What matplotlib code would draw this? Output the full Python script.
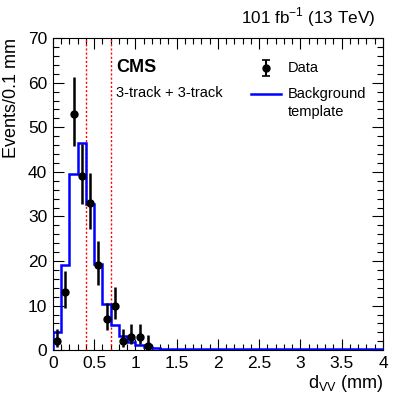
import matplotlib
matplotlib.use("Agg")
import matplotlib.pyplot as plt
from matplotlib.ticker import MultipleLocator, FuncFormatter

plt.rcParams["font.family"] = ["Liberation Sans", "DejaVu Sans"]
plt.rcParams["mathtext.fontset"] = "custom"
plt.rcParams["mathtext.rm"] = "Liberation Sans"

# data points (0.1 mm bins)
data_x = [0.05, 0.15, 0.25, 0.35, 0.45, 0.55, 0.65, 0.75, 0.85, 0.95, 1.05, 1.15]
data_y = [2, 13, 53, 39, 33, 19, 7, 10, 2, 3, 3, 1]
err_lo = [1.29, 3.55, 7.26, 6.2, 5.73, 4.33, 2.58, 3.11, 1.29, 1.63, 1.63, 0.83]
err_hi = [2.64, 4.67, 8.3, 7.3, 6.8, 5.4, 3.58, 4.26, 2.64, 2.92, 2.92, 2.30]

# background template
bkg_edges = [0.0, 0.1, 0.2, 0.3, 0.4, 0.5, 0.6, 0.7, 0.8, 0.9, 1.0, 1.1, 1.2, 1.3, 1.5, 2.0, 4.0]
bkg_vals = [4.1, 19.0, 39.6, 46.4, 32.9, 19.3, 10.3, 5.7, 3.1, 1.9, 1.2, 0.7, 0.45, 0.3, 0.25, 0.2]

cut_lines = [0.4, 0.7]

fig = plt.figure(figsize=(4.07, 3.93), dpi=100)
ax = fig.add_axes([0.130, 0.109, 0.811, 0.794])

ax.stairs(bkg_vals, bkg_edges, color="#0000ff", lw=1.8, zorder=3)
for c in cut_lines:
    ax.axvline(c, color="#ff0000", ls=(0, (1.5, 1.5)), lw=1.0)
ax.errorbar(data_x, data_y, yerr=[err_lo, err_hi], fmt="o", color="black", ms=5,
            lw=1.8, capsize=0, zorder=4)

ax.set_xlim(0, 4)
ax.set_ylim(0, 70)
ax.xaxis.set_major_locator(MultipleLocator(0.5))
ax.xaxis.set_minor_locator(MultipleLocator(0.1))
ax.yaxis.set_major_locator(MultipleLocator(10))
ax.yaxis.set_minor_locator(MultipleLocator(2))
ax.xaxis.set_major_formatter(FuncFormatter(lambda v, p: f"{v:g}"))
ax.tick_params(which="both", direction="in", top=True, right=True, labelsize=12.5, width=0.8)
ax.tick_params(which="major", length=8, pad=4)
ax.tick_params(which="minor", length=4)
for s in ax.spines.values():
    s.set_linewidth(0.8)

ax.set_xlabel(r"d$_{\mathregular{VV}}$ (mm)", fontsize=13, loc="right", labelpad=2)
ax.set_ylabel("Events/0.1 mm", fontsize=13, loc="top", labelpad=6)

ax.text(0.77, 63.3, "CMS", fontsize=13, fontweight="bold", va="center")
ax.text(0.77, 57.7, "3-track + 3-track", fontsize=10.5, va="center")
fig.text(0.921, 0.957, r"101 fb$^{\mathregular{-1}}$ (13 TeV)", fontsize=12.3, ha="right", va="center")

# legend
ax.errorbar([2.58], [63.3], yerr=[[1.8], [1.8]], fmt="o", color="black", ms=5, lw=1.5,
            capsize=3, capthick=1.2)
ax.plot([2.4, 2.76], [57.4, 57.4], color="#0000ff", lw=1.8)
ax.text(2.85, 63.3, "Data", fontsize=10.5, va="center")
ax.text(2.85, 57.4, "Background", fontsize=10.5, va="center")
ax.text(2.85, 53.4, "template", fontsize=10.5, va="center")

fig.savefig("out.png", dpi=100)
